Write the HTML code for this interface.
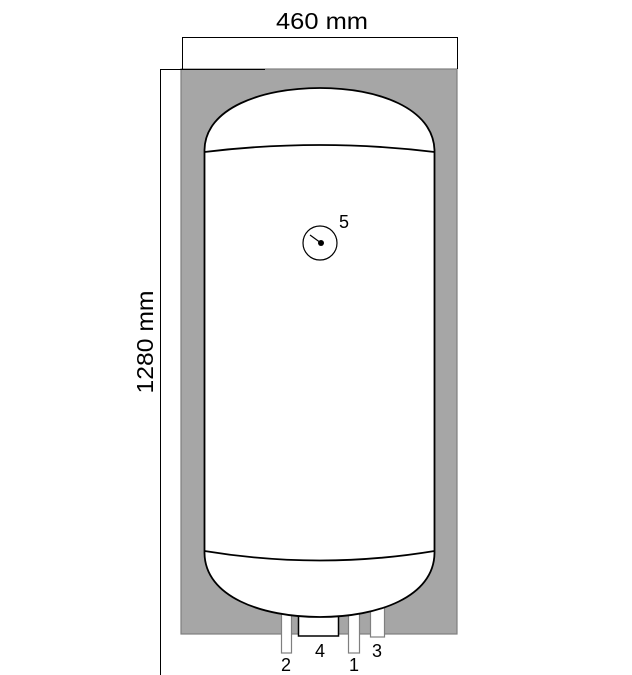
<!DOCTYPE html>
<html><head><style>html,body{margin:0;padding:0;background:#fff}</style></head><body>
<svg width="632" height="675" viewBox="0 0 632 675" xmlns="http://www.w3.org/2000/svg" style="display:block">
<rect x="181" y="69" width="276" height="565" fill="#a6a6a6" stroke="#7f7f7f" stroke-width="1.2"/>
<rect x="281.5" y="612" width="10" height="41" fill="#fff" stroke="#7f7f7f" stroke-width="1.2"/>
<rect x="348.5" y="612" width="11" height="41" fill="#fff" stroke="#7f7f7f" stroke-width="1.2"/>
<rect x="370.5" y="606" width="14" height="31" fill="#fff" stroke="#7f7f7f" stroke-width="1.2"/>
<rect x="298.5" y="612" width="40" height="24" fill="#fff" stroke="#000" stroke-width="1.5"/>
<path d="M204.5,150 C205,108 262,88 320,88 C378,88 433,108 434.5,150 L434.5,553 C434,597 378,617 320,617 C262,617 205,597 204.5,553 Z" fill="#fff" stroke="#000" stroke-width="1.8"/>
<path d="M204.5,152 Q320,138 434.5,152" fill="none" stroke="#000" stroke-width="1.8"/>
<path d="M204.5,551 Q320,570 434.5,551" fill="none" stroke="#000" stroke-width="1.8"/>
<circle cx="320" cy="243" r="17" fill="#fff" stroke="#000" stroke-width="1.2"/>
<line x1="310" y1="235" x2="321" y2="243" stroke="#000" stroke-width="1.2"/>
<circle cx="321" cy="243" r="3" fill="#000"/>
<line x1="182.5" y1="37.5" x2="457.5" y2="37.5" stroke="#000" stroke-width="1"/>
<line x1="182.5" y1="37" x2="182.5" y2="69" stroke="#000" stroke-width="1"/>
<line x1="457.5" y1="37" x2="457.5" y2="69" stroke="#000" stroke-width="1"/>
<line x1="160.5" y1="69.5" x2="265" y2="69.5" stroke="#000" stroke-width="1"/>
<line x1="160.5" y1="69" x2="160.5" y2="675" stroke="#000" stroke-width="1"/>
<g font-family="Liberation Sans, sans-serif" fill="#000">
<text x="322" y="29" font-size="23" text-anchor="middle" textLength="92" lengthAdjust="spacingAndGlyphs">460 mm</text>
<text transform="translate(153,342) rotate(-90)" font-size="23" text-anchor="middle" textLength="103" lengthAdjust="spacingAndGlyphs">1280 mm</text>
<text x="344" y="228" font-size="18" text-anchor="middle">5</text>
<text x="286" y="671" font-size="18" text-anchor="middle">2</text>
<text x="320" y="657" font-size="18" text-anchor="middle">4</text>
<text x="354" y="671" font-size="18" text-anchor="middle">1</text>
<text x="377" y="657" font-size="18" text-anchor="middle">3</text>
</g>
</svg>
</body></html>
